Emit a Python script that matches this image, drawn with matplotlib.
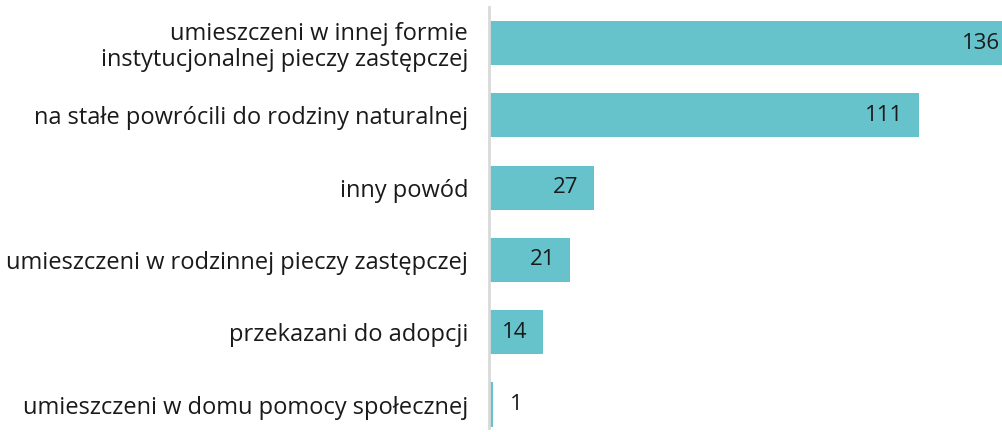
import matplotlib
matplotlib.use("Agg")
import matplotlib.pyplot as plt

categories = [
    "umieszczeni w innej formie\ninstytucjonalnej pieczy zastępczej",
    "na stałe powrócili do rodziny naturalnej",
    "inny powód",
    "umieszczeni w rodzinnej pieczy zastępczej",
    "przekazani do adopcji",
    "umieszczeni w domu pomocy społecznej",
]
values = [136, 111, 27, 21, 14, 1]

bar_color = "#66c3cb"
text_color = "#1a1a1a"

plt.rcParams["font.family"] = ["Open Sans", "DejaVu Sans"]

fig = plt.figure(figsize=(10.03, 4.32), dpi=100)
ax = fig.add_axes([489 / 1003, 4 / 432, 1 - 489 / 1003, 421 / 432])

pos = list(range(len(values)))
ax.barh(pos, values, height=0.61, color=bar_color, zorder=2)

ax.set_xlim(0, 132.8)
ax.set_ylim(5.325, -0.498)

ax.set_yticks(pos)
ax.set_yticklabels(categories, fontsize=17, color=text_color, linespacing=1.1)
ax.tick_params(axis="y", length=0, pad=15)
ax.set_xticks([])

for s in ["top", "right", "bottom"]:
    ax.spines[s].set_visible(False)
ax.spines["left"].set_color("#d9d9d9")
ax.spines["left"].set_linewidth(2)
ax.spines["left"].set_zorder(3)

for i, v in enumerate(values):
    if v < 5:
        ax.annotate(str(v), (v, i), xytext=(12, 0), textcoords="offset points",
                    ha="left", va="center", fontsize=16, color=text_color)
    else:
        ax.annotate(str(v), (v, i), xytext=(-11, 0), textcoords="offset points",
                    ha="right", va="center", fontsize=16, color=text_color,
                    annotation_clip=False)

fig.savefig("out.png", dpi=100)
